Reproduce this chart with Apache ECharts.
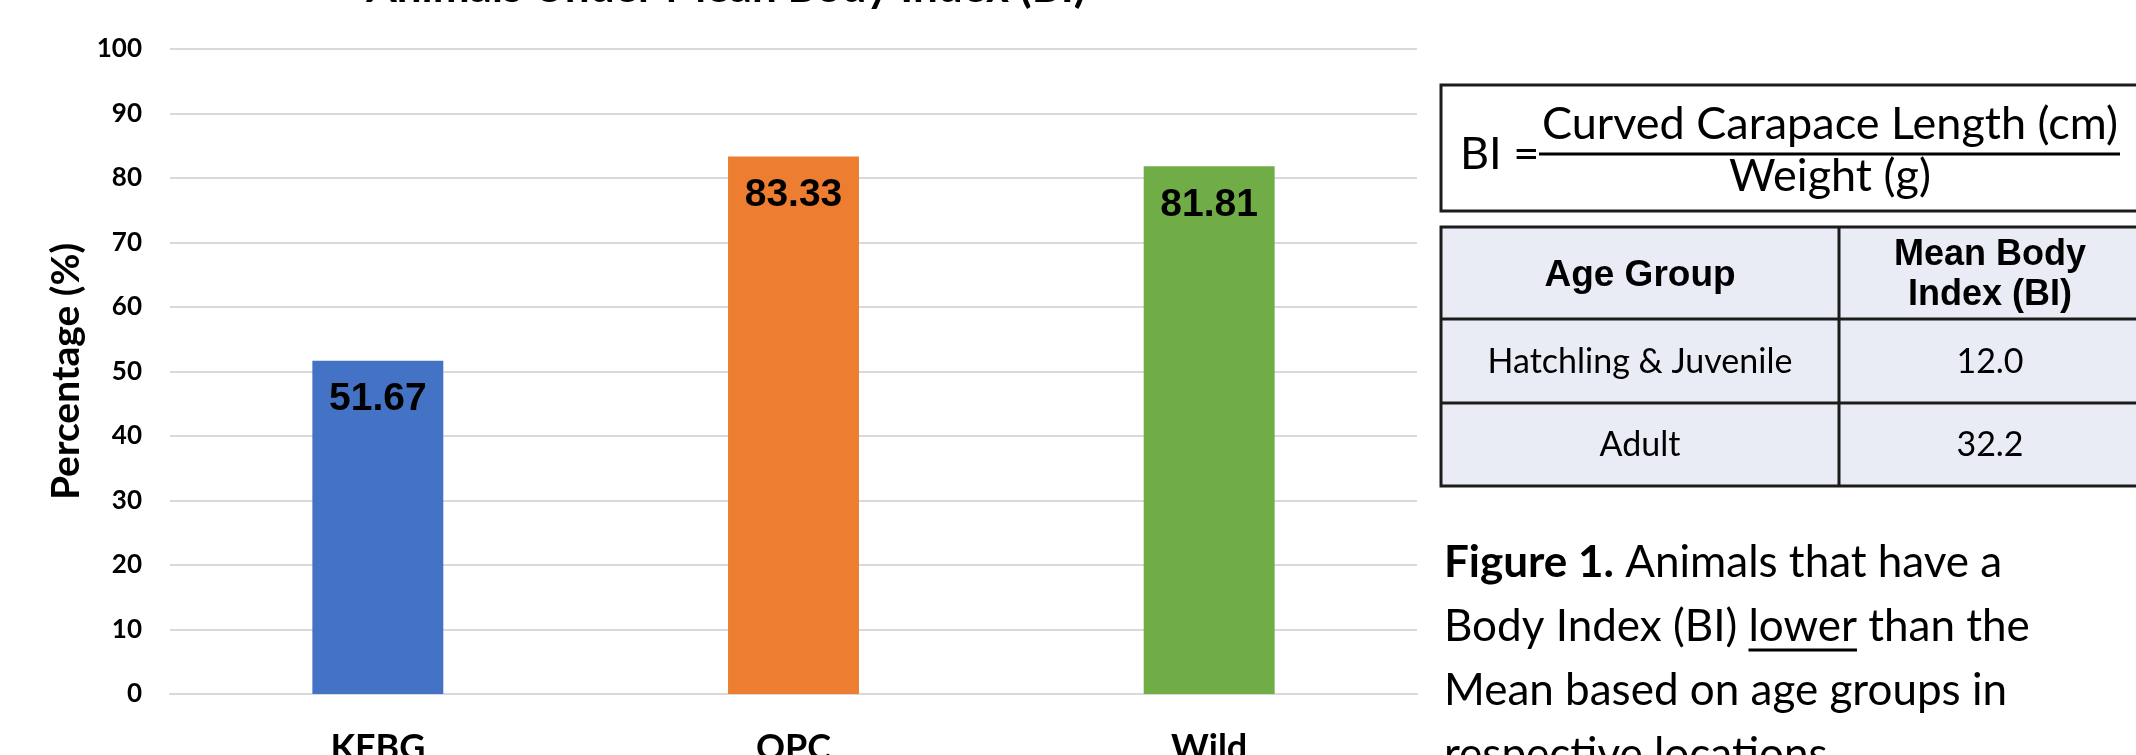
<!DOCTYPE html>
<html>
<head>
<meta charset="utf-8">
<title>Animals Under Mean Body Index (BI)</title>
<script src="https://cdn.jsdelivr.net/npm/echarts@6/dist/echarts.min.js"></script>
<style>
    html, body { margin: 0; padding: 0; background: #fff; overflow: hidden; }
    #chart { width: 2136px; height: 755px; }
</style>
</head>
<body>
<div id="chart"></div>
<script>
'use strict';

// chart data
var categories = ['KFBG', 'OPC', 'Wild'];
var values = [51.67, 83.33, 81.81];
var barColors = ['#4472C4', '#ED7D31', '#70AD47'];
var yMin = 0, yMax = 100, yStep = 10;

// side panel text
var chartTitle = 'Animals Under Mean Body Index (BI)';
var formulaTop = 'Curved Carapace Length (cm)';
var formulaBottom = 'Weight (g)';
var tableHeader = ['Age Group', 'Mean Body\nIndex (BI)'];
var ageGroups = ['Hatchling & Juvenile', 'Adult'];
var meanBI = ['12.0', '32.2'];

var SANS = 'Lato';
var ARIAL = '"Liberation Sans"';
var ink = '#000';
var border = '#1c1c1c';
var cellFill = '#E9EBF5';

// measure text widths for the caption pieces
var ctx = document.createElement('canvas').getContext('2d');
function textWidth(str, font) {
    ctx.font = font;
    return ctx.measureText(str).width;
}

var capFont = '44px ' + SANS;
var capBold = 'bold 44px ' + SANS;
var capX = 1444;
var capY = [563, 627, 691, 755];

var line2a = 'Body Index (BI) ';
var line2b = 'lower';
var lowerX = capX + textWidth(line2a, capFont);
var lowerW = textWidth(line2b, capFont);

function txt(x, y, text, font, align) {
    return {
        type: 'text',
        x: x,
        y: y,
        silent: true,
        style: {
            text: text,
            font: font,
            fill: ink,
            textAlign: align || 'center',
            textVerticalAlign: 'middle'
        }
    };
}

var graphics = [
    // title, mostly cropped above the frame
    txt(726, -12, chartTitle, 'bold 44px ' + SANS),

    // formula box
    {
        type: 'rect',
        shape: { x: 1441, y: 85, width: 720, height: 126 },
        style: { fill: '#fff', stroke: border, lineWidth: 3 }
    },
    txt(1460, 154, 'BI =', '45px ' + SANS, 'left'),
    txt(1830, 124, formulaTop, '45px ' + SANS),
    {
        type: 'line',
        shape: { x1: 1539, y1: 154, x2: 2120, y2: 154 },
        style: { stroke: ink, lineWidth: 3 }
    },
    txt(1830, 176, formulaBottom, '45px ' + SANS),

    // table
    {
        type: 'rect',
        shape: { x: 1441, y: 227, width: 720, height: 259 },
        style: { fill: cellFill, stroke: border, lineWidth: 3 }
    },
    {
        type: 'line',
        shape: { x1: 1839, y1: 227, x2: 1839, y2: 486 },
        style: { stroke: border, lineWidth: 3 }
    },
    {
        type: 'line',
        shape: { x1: 1441, y1: 319, x2: 2161, y2: 319 },
        style: { stroke: border, lineWidth: 3 }
    },
    {
        type: 'line',
        shape: { x1: 1441, y1: 403, x2: 2161, y2: 403 },
        style: { stroke: border, lineWidth: 3 }
    },
    txt(1640, 276, tableHeader[0], 'bold 37px ' + ARIAL),
    {
        type: 'text',
        x: 1990,
        y: 275,
        silent: true,
        style: {
            text: tableHeader[1],
            font: 'bold 36px ' + ARIAL,
            lineHeight: 40,
            fill: ink,
            textAlign: 'center',
            textVerticalAlign: 'middle'
        }
    }
];

var rowY = [362, 445];
ageGroups.forEach(function (g, i) {
    graphics.push(txt(1640, rowY[i], g, '34px ' + SANS));
    graphics.push(txt(1990, rowY[i], meanBI[i], '34px ' + SANS));
});

// caption
graphics.push({
    type: 'text',
    x: capX,
    y: capY[0],
    silent: true,
    style: {
        text: '{b|Figure 1.} Animals that have a',
        font: capFont,
        fill: ink,
        textAlign: 'left',
        textVerticalAlign: 'middle',
        rich: { b: { font: capBold, fill: ink } }
    }
});
graphics.push(txt(capX, capY[1], line2a + line2b + ' than the', capFont, 'left'));
graphics.push({
    type: 'line',
    shape: { x1: lowerX, y1: capY[1] + 23, x2: lowerX + lowerW, y2: capY[1] + 23 },
    style: { stroke: ink, lineWidth: 3 }
});
graphics.push(txt(capX, capY[2], 'Mean based on age groups in', capFont, 'left'));
graphics.push(txt(capX, capY[3], 'respective locations', capFont, 'left'));

var chart = echarts.init(document.getElementById('chart'));
var option = {
    animation: false,
    backgroundColor: '#fff',
    grid: {
        left: 170, right: 719, top: 49, bottom: 61,
        containLabel: false,
        outerBoundsMode: 'none'
    },
    xAxis: {
        type: 'category',
        data: categories,
        axisLine: { show: true, lineStyle: { color: '#D9D9D9', width: 2 } },
        axisTick: { show: false },
        axisLabel: {
            margin: 36,
            color: ink,
            fontFamily: SANS,
            fontWeight: 'bold',
            fontSize: 36
        }
    },
    yAxis: {
        type: 'value',
        min: yMin,
        max: yMax,
        interval: yStep,
        name: 'Percentage (%)',
        nameLocation: 'middle',
        nameGap: 84,
        nameTextStyle: {
            color: ink,
            fontFamily: SANS,
            fontWeight: 'bold',
            fontSize: 39
        },
        axisLine: { show: false },
        axisTick: { show: false },
        splitLine: { lineStyle: { color: '#D9D9D9', width: 2 } },
        axisLabel: {
            margin: 28,
            color: ink,
            fontFamily: SANS,
            fontWeight: 'bold',
            fontSize: 26
        }
    },
    series: [{
        type: 'bar',
        barWidth: '31.5%',
        data: values.map(function (v, i) {
            return { value: v, itemStyle: { color: barColors[i] } };
        }),
        label: {
            show: true,
            position: 'insideTop',
            distance: 19,
            color: ink,
            fontFamily: ARIAL,
            fontWeight: 'bold',
            fontSize: 39,
            formatter: function (p) { return p.value.toFixed(2); }
        }
    }],
    graphic: graphics
};
chart.setOption(option);
</script>
</body>
</html>
